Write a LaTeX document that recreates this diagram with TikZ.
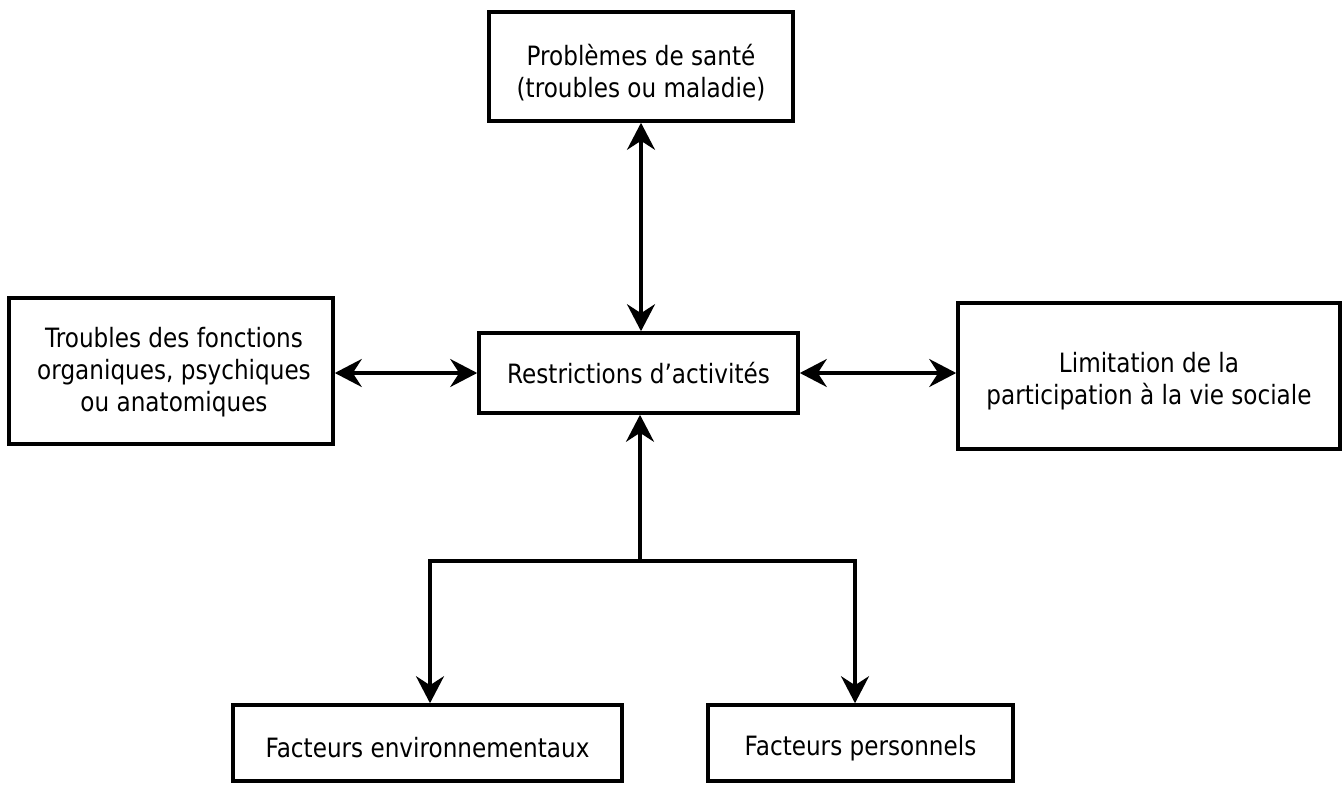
\documentclass[tikz,border=0pt]{standalone}
\usepackage{fontspec}
\setmainfont{DejaVu Sans}[FakeStretch=0.87]
\usetikzlibrary{arrows.meta}
\begin{document}
\begin{tikzpicture}[x=0.5pt,y=-0.5pt,
  box/.style={draw,line width=1.8pt,inner sep=0pt},
  txt/.style={align=center,inner sep=0pt,font=\fontsize{13.3pt}{16pt}\selectfont},
  tip/.tip={Stealth[length=13.5pt,width=14pt,inset=4.5pt]},
  conn/.style={line width=1.6pt,-tip},
  conn2/.style={line width=1.6pt,tip-tip}]
\useasboundingbox[fill=white] (0,0) rectangle (1344,787);
\node[box,minimum width=152pt,minimum height=54.5pt] (top) at (641,66.5) {};
\node[box,minimum width=162pt,minimum height=73pt] (left) at (171,371) {};
\node[box,minimum width=159.5pt,minimum height=40pt] (ctr) at (638.5,373) {};
\node[box,minimum width=191pt,minimum height=73pt] (right) at (1149,376) {};
\node[box,minimum width=194.5pt,minimum height=38pt] (bl) at (427.5,743) {};
\node[box,minimum width=152.5pt,minimum height=38pt] (br) at (860.5,743) {};
\node[txt] (toptxt) at ([yshift=-3.2pt]top.center) {Problèmes de santé\\(troubles ou maladie)};
\node[txt] (lefttxt) at ([xshift=1.5pt,yshift=-0.5pt]left.center) {Troubles des fonctions\\organiques, psychiques\\ou anatomiques};
\node[txt] (ctrtxt) at (ctr.center) {Restrictions d’activités};
\node[txt] (righttxt) at ([yshift=-2.5pt]right.center) {Limitation de la\\participation à la vie sociale};
\node[txt] (bltxt) at ([yshift=-2.5pt]bl.center) {Facteurs environnementaux};
\node[txt] (brtxt) at ([yshift=-2.5pt]br.center) {Facteurs personnels};
\coordinate (j) at (640,561);
\coordinate (jl) at (430,561);
\coordinate (jr) at (855,561);
\draw[conn2] (top.south) -- (top.south |- ctr.north);
\draw[conn2] (left.east |- ctr.west) -- (ctr.west);
\draw[conn2] (ctr.east) -- (right.west |- ctr.east);
\draw[conn] (j) -- (j |- ctr.south);
\draw[conn] (j) -- (jl) -- (jl |- bl.north);
\draw[conn] (j) -- (jr) -- (jr |- br.north);
\end{tikzpicture}
\end{document}
